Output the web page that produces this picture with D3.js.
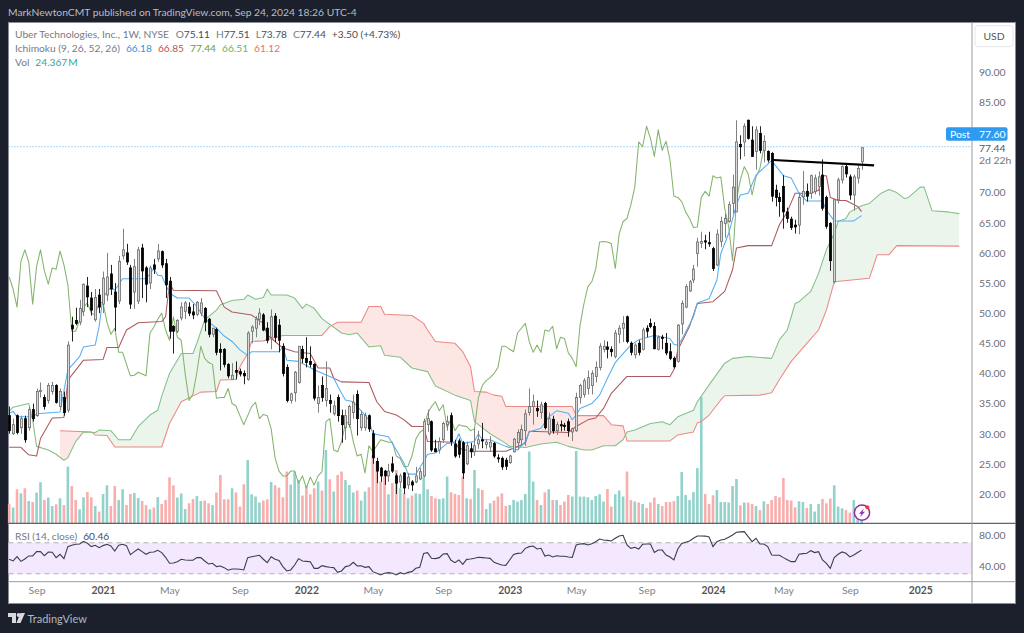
<!DOCTYPE html>
<html lang="en">
<head>
<meta charset="utf-8">
<title>Uber Technologies 1W</title>
<script src="https://d3js.org/d3.v7.min.js"></script>
<style>
  body { margin: 0; background: #1c202c; }
  svg { display: block; }
  text { font-family: Lato, sans-serif; }
  .axis text { font-size: 10.4px; fill: #6a6d78; }
  .axis path, .axis line { display: none; }
</style>
</head>
<body>
<script>
// weekly bars, week 0 = 20 Jul 2020, last = 23 Sep 2024
var opens = [33,30,33,31,32.5,31,34,33,37,36,
  35.5,37,38,34.5,36,33.9,48,48.8,48.5,50.3,
  54.5,52.5,48.9,53,51.5,53,56.5,53.5,52,59.5,
  60,57.5,53.5,52,60.8,57.5,55,58,59,60.2,
  58.2,55.3,47.8,47,49.2,50.3,51,50.2,49.8,50,
  50.8,49,46.5,47.3,44,44,41.5,39,40.5,40.3,
  40,39,47,47.5,49,49.7,47.5,46,49.5,48,
  44.5,41,35.5,36.8,38.5,44,42.5,42,41.5,35,
  38,35.5,35.5,33.3,36,33,31,31.5,33.5,36.5,
  31,31,33,30,25.4,24.3,23.8,23,25,23,
  22,23.5,21.5,22,22,22.5,23,31.5,32,27.5,
  27.3,29,31.5,33,28.3,28.8,28.5,25,27.5,27,
  28.3,29,28.2,27.8,28.4,26,25.9,25.6,25.2,27,
  28.5,29,30.5,33.5,34.5,34.2,33.5,35,30,32.4,
  30.5,31.5,31.4,32,30.3,30.5,36,36.5,37.5,38,
  39.5,41,44,44.4,44,42.8,46.5,47.5,49.4,45,
  43.1,45,44,47.5,48.3,47.8,44,46,45,43.6,
  42.5,42,48.2,51,53.7,55.5,59.9,61.6,62,61.7,
  60.7,58,61.9,64.9,65.2,68.2,66.8,78,78.4,82,
  78.7,76.8,79.8,77,76.8,76.5,70.4,69.2,71,66.8,
  65.6,64.6,64.6,69.3,70.2,69.9,70.2,71,72.9,69.2,
  64.9,55.2,68.8,72.1,74.3,72.6,69.6,72.4,75.11];
var highs = [34.5,32.5,33.2,33,33,34.5,35,37.5,38.5,36.5,
  38.4,38.6,38.2,37.5,37,45.3,49.4,50.9,52.2,54.9,
  56,53.5,54,54,56.9,60,58,55,59.5,64,
  61.5,58,59,61,61.5,57.8,57.9,59,61.5,60.4,
  59,56,48,49,51.8,52,51.8,51.5,52,52.5,
  51,49.2,47.5,47.6,45,44.2,41.7,41.7,42,40.8,
  40.5,47,48,49.5,50.8,50,48.5,50.6,50,49,
  45,41.5,36.8,40.4,44.5,44.6,46,44.5,41.7,38,
  39.5,42,36.5,35.5,36.5,34,34,34.8,36.5,37.2,
  33.8,33.5,33.2,30.6,26,24.5,24,25,26.2,23.4,
  23.4,23.6,23.5,22.3,24.5,24.3,32.5,34,32.2,29,
  29.4,32,33,33.5,29,29.2,28.8,28.7,28.5,31,
  30.5,31.8,29.1,29.6,28.6,26.6,26.2,26,26.5,29.3,
  30.7,31.5,34,37.5,36.5,35.5,35.3,35.3,33.5,33,
  32,32.2,31.8,32.5,31,36.8,38.3,39.2,40.5,40.5,
  42,45,45.5,45.3,44.5,47.2,48,49.5,49.6,45.3,
  45,45.5,47.6,48,49.1,48.5,46.3,46.4,46.7,45,
  42.8,48.2,52.1,54.8,55.5,58,62.5,63.5,63,63.5,
  61,63.9,66,66.5,68.5,73,82,79.5,81.5,82.1,
  81,81,81,79.5,77,76.7,71.3,70,72.9,67.5,
  66,65.5,70,73.6,71.5,73,73,73.5,75.5,69.5,
  65.1,69,72.5,74.5,74.7,73,73,74.6,77.51];
var lows = [30,29.8,29.9,30,28.5,30.5,32,32.8,36,34,
  35,36.5,35,34,33,33.5,45.3,48,48,49.5,
  51,49.6,48.6,50,50,52,53,47,51.5,58.9,
  58,50.7,50.7,51.5,52.5,51.8,54,56.5,58.5,57.5,
  52.5,45.8,43.3,46.7,48.8,49,49.5,49,49.5,49.5,
  47,46,46,43,40.5,41,39.2,38.9,39,39.5,
  38.2,38.8,45,46,48,47,45,44,45.2,43.5,
  39.5,35.2,35,35.3,38.3,41.7,41,41,35.5,33.5,
  35.3,34.5,33.5,33,32,28.5,29,31,32.5,29.7,
  30.5,30.5,30.3,25,21.8,22,21.5,22,23.5,20,
  21,20,20.8,20.5,21.8,22.3,22.8,30.3,27,27,
  26.7,28.5,30.5,28,26,26,22.5,24.8,26,26.3,
  27.5,27.6,27.5,27,26,25.2,24,24,25,26.9,
  27.3,28,28,33,31.5,32.8,32.5,30.7,29.7,30,
  29.8,30.4,30.5,29.5,28.8,30.3,35,36,36.5,36.5,
  38.5,40.5,43.5,42.5,42.8,42.5,45,45.2,45,43,
  42.5,43,43.8,46,47.5,44,43.8,44,43,42.2,
  40.8,41.8,46.5,50.8,53.5,55,57.7,60.8,60.6,61,
  57,57.8,61,62.5,65,66.5,66.8,75.5,76,78.8,
  75.9,73.8,76.5,75,75,68.5,67.7,66,64,65,
  63.8,63.2,63.1,68,68.5,69,69.7,69.5,67,64,
  57,54.9,68.2,71.5,72.5,68.8,67,71.5,73.78];
var closes = [30.5,31.5,30.2,32.5,29,34,32.5,37,37.2,34.5,
  38,38,35.2,37,33.5,44.7,47.4,48.3,50.8,54.8,
  52.7,50.5,52.6,51,55.8,56,54,51,58.6,60.5,
  58.5,51.5,57.7,60.5,57,54.8,57.5,57.3,60.3,58,
  54.7,47,47,48.8,51,51.7,50,49.7,51.8,51.7,
  48.5,46.5,47.5,43.5,43.5,41.5,39.6,39.7,40.2,39.9,
  39.6,46.7,47.7,49,50,47.2,45.5,49.4,46,45.5,
  40,35.5,36.6,40.2,44.5,42.5,41.8,41.5,35.9,36,
  36,37.5,35,34.6,33,31.5,33,34.5,35.2,32.5,
  33.2,33,30.8,26,23.8,23,23,23.8,23.8,21.8,
  23,21,22.8,21.5,23,23.7,32,32.5,27.3,27,
  28.7,31.7,32,28.7,26.3,26.6,23.5,28,27,28,
  29,28.8,28.6,28.6,26.3,25.9,24.5,24.6,26.3,29.1,
  30.2,30.7,33.3,34.5,35.3,33.8,34.8,31,32.5,30.5,
  31.5,31.3,31.2,30.5,30.8,36,38,38.8,39.3,40,
  41,44.5,44.5,44,43.6,46.7,47.5,48.3,45.3,43.5,
  44.7,43.5,47.2,47,47.8,44.1,46,45.8,43.4,42.5,
  41.1,48,51.6,54.4,55.2,57.3,61.8,61.9,61.8,61.5,
  57.4,63.1,65.2,65.7,68,70.9,78.4,77.6,81,79,
  76,80.4,77,78.5,75.4,69.4,69.2,68.5,66.8,65.7,
  64.2,64.3,69.2,70.2,69.4,72.8,72.4,72.6,67.4,64.4,
  58.7,68.8,72.1,74.3,73.1,69.6,72.6,74,77.44];
// volume, millions
var vols = [77,63,136,120,140,89,85,123,164,93,
  103,69,76,100,73,227,149,93,56,104,
  125,104,69,47,117,152,69,149,93,136,
  73,117,121,101,89,73,56,63,105,77,
  93,184,152,103,119,57,80,97,109,89,
  91,80,73,123,193,96,96,140,123,67,
  156,253,116,107,83,91,96,165,152,143,
  104,207,155,207,173,111,148,116,140,167,
  131,293,176,127,193,207,173,153,123,131,
  91,127,144,271,247,167,187,116,160,213,
  140,120,100,111,120,117,187,136,109,100,
  97,100,187,124,117,113,187,100,97,213,
  140,133,57,80,91,107,120,69,73,93,
  87,93,117,287,167,93,73,124,136,93,
  93,73,87,113,107,289,107,107,104,93,
  109,116,87,137,67,116,131,107,207,93,
  87,83,77,61,83,103,77,69,85,85,
  89,109,205,113,93,125,221,505,117,77,
  112,133,85,85,83,149,177,72,83,83,
  77,69,53,88,77,93,109,104,181,93,
  91,64,88,85,61,77,47,77,97,80,
  99,152,67,60,53,43,93,20,24.367];
// rsi per week
var rsi = [48.7,46.5,52,46,49,53,53,58.5,58.5,53.4,
  58.1,57.7,50.8,55.1,49.5,65,66.7,68,68.4,71.9,
  69.3,65,66.7,63.7,66.3,68,65.9,59.4,66.7,68,
  66.3,54.7,58.5,62,58.5,55.1,57.7,58.1,60.3,57.3,
  51.2,43.5,43.9,45.6,48.7,47.8,47.4,47.4,50.8,50.8,
  46.5,42.6,43.5,39.2,40,37.9,34.5,36.2,36.2,35.8,
  34.9,50.8,52,53,53.8,48.7,44.4,52,48.7,47,
  39.2,33.6,34.9,41.3,49.5,46.5,46,45.6,37,37,
  40.5,39.2,38.3,37.9,31.9,33.6,39.2,40.4,44.7,40,
  40.4,38.3,39.2,32.7,30.6,28.4,30.6,31.4,30.6,28.4,
  31.4,29.7,31.8,32.7,37,38.3,56.3,57.2,49.9,49.5,
  50.8,55.5,55.9,47.3,44.3,47.8,42.2,48.6,49,49.9,
  51.2,50.8,50.3,49.9,44.7,43,41.3,40.9,47.8,55,
  56.3,56.8,62.8,65,65.8,61.9,62.8,52.9,54.2,51.6,
  53.3,52.5,52.5,51.6,51.2,67.1,68.4,68.8,67.1,68.8,
  71.4,74.8,73.6,73.1,72.3,75.7,78.7,79.6,67.1,62.8,
  64.1,61.9,68,68.4,68.4,57.6,60.6,60.6,54.2,51.6,
  47.8,61.9,69,70.6,72.3,75.8,78.8,78.8,78.6,77.5,
  65,71.4,73.6,74.4,77,80,83.5,84,84.3,77.9,
  71.4,75.8,68.4,68.4,65,54.2,53.8,53.8,50.8,48.2,
  45.6,45.6,55.1,56,56.4,59.8,57.3,58.5,47.8,43.5,
  37,50.8,55.1,58.1,56.4,51.7,54.2,57.3,60.46];

// ichimoku lines, [week, price] at the visible corners
var tenkan = [[0,33.4],[1,33.7],[2,32.8],[6,32.8],[7,33.3],[13,33.6],[15,40.6],[18,42.8],[19,44.4],[22,44.7],[23,47.8],[24,52.7],[26,54.3],[27,53.8],[29,55.7],[35,55.7],[37,57.4],[38,56.3],[39,56.2],[41,53.3],[43,52.5],[46,52.5],[48,51.1],[50,49.1],[53,47.5],[55,46.2],[57,45.3],[59,43.9],[61,43],[62,43.6],[69,43.6],[70,44.4],[71,42.2],[74,42],[78,40.6],[83,39.2],[85,36.7],[86,35.6],[88,35.3],[92,32.3],[93,30],[97,29.5],[99,27.3],[101,25.1],[102,23.3],[104,23.3],[106,25.4],[107,26.6],[109,26.8],[112,28.4],[114,28.5],[115,30],[116,28.4],[119,28.7],[120,30],[121,29],[123,29],[127,27.9],[130,27.3],[132,28.7],[133,30.3],[136,30.9],[138,32.8],[140,33.8],[143,33.4],[144,32.3],[145,33.1],[146,34.2],[149,35],[151,36.4],[153,39.2],[155,41.8],[157,43.3],[159,44.7],[161,45.6],[165,46.3],[169,45.8],[170,44.8],[171,44.7],[172,45.6],[175,49.4],[176,51.7],[179,52.4],[181,55.5],[182,59.9],[184,63.2],[186,68],[187,69.6],[189,69.9],[191,72.9],[195,75.3],[198,72.8],[200,72.4],[202,69.9],[204,68.6],[208,68.6],[209,67.1],[211,65.3],[216,65.3],[218,66.18]];
var kijun = [[0,27.75],[3,27.75],[5,26.5],[7,26.3],[8,29.2],[11,32.6],[14,32.7],[15,38.9],[19,42.2],[24,42.3],[25,44.3],[28,44.3],[30,47.2],[33,48.4],[39,48.6],[40,49.4],[41,55],[42,53.8],[53,53.7],[55,51],[57,50.2],[62,49.7],[65,48.3],[66,46.4],[68,45.3],[70,44.2],[73,43.6],[77,43.3],[79,40.9],[82,40.9],[83,39.2],[85,38.6],[92,38.5],[94,35.3],[96,33.7],[99,33.1],[101,32.3],[103,31.2],[106,31.2],[107,28.7],[114,28.6],[115,27.6],[118,27.1],[127,27.1],[129,27.6],[132,28.4],[133,30.4],[143,30.2],[145,31.2],[148,32.3],[150,32.6],[152,34.2],[154,36.7],[158,39.5],[169,39.5],[170,40.6],[171,43.9],[174,47.8],[176,51.6],[180,51.9],[183,53.6],[185,57.2],[186,60.8],[189,61.2],[195,61.2],[197,64.7],[199,66.8],[201,69.9],[205,69.9],[207,70.4],[208,72.8],[209,72.8],[210,69.2],[212,68.7],[214,68.7],[217,67.7],[218,66.85]];
var senkouA = [[0,33.7],[1,34.4],[5,35],[6,32.3],[7,27.9],[10,27.3],[12,26.6],[14,25.6],[15,26],[17,28.7],[19,30.3],[22,30.2],[23,30.6],[26,30.5],[28,29],[31,29],[33,31.2],[36,33.1],[38,33.9],[39,36.2],[41,40],[44,43.3],[47,43.3],[48,45],[50,48.9],[53,50.5],[54,51.4],[57,52.1],[60,52.3],[61,53],[63,52.3],[65,52.6],[66,54],[67,53],[71,53],[73,52.5],[75,50.8],[76,51.5],[78,50.8],[80,49.1],[85,46.7],[87,46.4],[89,46.7],[92,44.4],[95,44.6],[96,43],[100,42.7],[103,40.9],[107,40.3],[109,37.9],[114,36.4],[118,35.5],[119,32],[120,31.5],[123,30],[127,28.4],[128,27.9],[132,27.7],[136,28.3],[140,28.6],[143,27.9],[147,27.3],[149,27.3],[152,28],[155,28],[157,29],[158,30.3],[160,30.6],[164,31.7],[167,32],[169,31.5],[171,32.8],[175,33.9],[176,35.3],[179,38.1],[183,41.7],[185,42.5],[189,42.8],[195,42.5],[197,45.6],[199,47.2],[201,51.6],[202,51.9],[205,53.6],[207,56.6],[209,60.5],[211,63.2],[212,65.2],[214,65.7],[215,66.8],[218,67.8],[220,68.2],[223,69.9],[225,70.5],[227,70],[229,69],[230,69.2],[233,70.9],[234,70.9],[236,67],[240,66.8],[241,66.7],[243,66.51]];
var senkouB = [[13,30.5],[21,30.3],[22,29.8],[25,29.7],[27,27.8],[39,27.8],[41,31.7],[44,35.3],[49,36.9],[53,37],[54,38.9],[58,39],[59,41.1],[61,43.3],[62,45.3],[65,45.4],[70,46.3],[80,46.3],[82,47.8],[84,48.5],[90,48.5],[92,51.1],[95,51.1],[96,49.8],[103,49.6],[106,48.3],[107,47.2],[109,45.3],[114,45],[116,43.6],[118,41.1],[119,37],[122,36.9],[124,36.4],[126,36.2],[127,34.5],[144,34.5],[145,33],[152,33],[154,31.5],[157,31.3],[158,28.8],[169,28.8],[171,29.8],[175,30.3],[176,31.8],[177,32],[179,33.1],[182,35.6],[183,36.3],[192,36.4],[195,36.8],[197,39],[200,42],[204,45],[207,47.2],[209,50.5],[211,55.2],[220,55.8],[222,59.7],[225,59.7],[227,61.2],[243,61.12]];
var trendWeeks = [195.4, 221.2];
var trendPrices = [75.4, 74.5];

var shownTicks = [90,85,70,65,60,55,50,45,40,35,30,25,20];
var rsiTicks = [80,40];
var xTickWeeks = [7,24,41,59,76,93,111,128,145,163,180,198,215,233];
var xTickLabels = ['Sep','2021','May','Sep','2022','May','Sep','2023','May','Sep','2024','May','Sep','2025'];

var W = 1024, H = 633;
var left = 8.5, right = 1015.5, axisX = 972, top_ = 22.5, volBase = 523.3, rsiBase = 581.7, bottom = 603.5;

var x = d3.scaleLinear().domain([0, 218]).range([9.2, 9.2 + 3.91 * 218]);
var y = d3.scaleLinear().domain([90, 20]).range([72, 494]);
var yVol = d3.scaleLinear().domain([0, 505]).range([volBase, 397]);
var yRsi = d3.scaleLinear().domain([80, 40]).range([535, 566]);

var svg = d3.select('body').append('svg').attr('width', W).attr('height', H);

svg.append('rect').attr('x', left).attr('y', top_).attr('width', right - left).attr('height', bottom - top_)
  .attr('fill', '#fff').attr('stroke', '#8a8d95').attr('stroke-width', 1);

// last price dotted line
svg.append('line').attr('x1', left).attr('x2', axisX).attr('y1', y(77.6)).attr('y2', y(77.6))
  .attr('stroke', '#2196f3').attr('stroke-width', 1).attr('stroke-dasharray', '1 2').attr('opacity', .75);

// cloud, two clipped areas so that the colour flips where the spans cross
var defs = svg.append('defs');
var below = function(d){ return y(d[1]); };
var areaToBottom = d3.area().x(function(d){return x(d[0]);}).y0(volBase).y1(below);
var areaToTop = d3.area().x(function(d){return x(d[0]);}).y0(top_).y1(below);

defs.append('clipPath').attr('id', 'underA').append('path').attr('d', areaToBottom(senkouA));
defs.append('clipPath').attr('id', 'overA').append('path').attr('d', areaToTop(senkouA));

svg.append('path').attr('d', areaToTop(senkouB)).attr('clip-path', 'url(#underA)').attr('fill', '#ebf5eb');
svg.append('path').attr('d', areaToBottom(senkouB)).attr('clip-path', 'url(#overA)').attr('fill', '#fde7e5');

// volume
svg.append('g').selectAll('rect')
    .data(vols)
  .enter().append('rect')
    .attr('x', function(d, i){ return x(i) - 1.3; })
    .attr('y', function(d){ return yVol(d); })
    .attr('width', 2.6)
    .attr('height', function(d){ return volBase - yVol(d); })
    .attr('fill', function(d, i){ return closes[i] >= opens[i] ? '#92d2ca' : '#f8aeac'; });

// ichimoku
var line = d3.line().x(function(d){return x(d[0]);}).y(function(d){return y(d[1]);});
function drawLine(data, color) {
  svg.append('path').attr('d', line(data)).attr('fill', 'none')
    .attr('stroke', color).attr('stroke-width', 1.05).attr('stroke-linejoin', 'round');
}
// lagging span is the close plotted 25 bars back
var chikou = closes.slice(25).map(function(c, i){ return [i, c]; });
drawLine(senkouB, '#ec8886');
drawLine(senkouA, '#86bf88');
drawLine(chikou, '#84b46c');
drawLine(kijun, '#ad5a5d');
drawLine(tenkan, '#56aef0');

// candles
var bars = svg.append('g').selectAll('g')
    .data(closes)
  .enter().append('g');
bars.append('line')
    .attr('x1', function(d, i){ return Math.round(x(i)) + .5; })
    .attr('x2', function(d, i){ return Math.round(x(i)) + .5; })
    .attr('y1', function(d, i){ return y(highs[i]); })
    .attr('y2', function(d, i){ return y(lows[i]); })
    .attr('stroke', function(d, i){ return d >= opens[i] ? '#808080' : '#222'; })
    .attr('stroke-width', 1);
bars.append('rect')
    .attr('x', function(d, i){ return Math.round(x(i)) - .5; })
    .attr('y', function(d, i){ return y(Math.max(d, opens[i])); })
    .attr('width', 2)
    .attr('height', function(d, i){ return Math.max(1, Math.abs(y(d) - y(opens[i]))); })
    .attr('fill', function(d, i){ return d >= opens[i] ? '#d9d9d9' : '#000'; })
    .attr('stroke', function(d, i){ return d >= opens[i] ? '#6a6a6a' : '#000'; })
    .attr('stroke-width', .8);

// drawn trend line
svg.append('line')
  .attr('x1', x(trendWeeks[0])).attr('y1', y(trendPrices[0]))
  .attr('x2', x(trendWeeks[1])).attr('y2', y(trendPrices[1]))
  .attr('stroke', '#000').attr('stroke-width', 2.2);

// rsi pane
svg.append('rect').attr('x', left).attr('width', axisX - left)
  .attr('y', yRsi(70)).attr('height', yRsi(30) - yRsi(70)).attr('fill', '#f3e8fd');
[70, 30].forEach(function(v) {
  svg.append('line').attr('x1', left).attr('x2', axisX).attr('y1', yRsi(v)).attr('y2', yRsi(v))
    .attr('stroke', '#b3aeb5').attr('stroke-dasharray', '5 4');
});
svg.append('path')
  .attr('d', d3.line().x(function(d, i){return x(i);}).y(function(d){return yRsi(d);})(rsi))
  .attr('fill', 'none').attr('stroke', '#3a3f4c').attr('stroke-width', 1.1);

// pane separators
svg.append('line').attr('x1', left).attr('x2', right).attr('y1', volBase).attr('y2', volBase).attr('stroke', '#3b3e46');
svg.append('line').attr('x1', left).attr('x2', right).attr('y1', rsiBase).attr('y2', rsiBase).attr('stroke', '#9a9ca2');
svg.append('line').attr('x1', axisX).attr('x2', axisX).attr('y1', top_).attr('y2', bottom).attr('stroke', '#9a9ca2');

// axes
var yAxis = d3.axisRight(y).tickValues(shownTicks).tickSize(0).tickPadding(0)
  .tickFormat(function(d){ return d.toFixed(2); });
svg.append('g').attr('class', 'axis').attr('transform', 'translate(979,0)').call(yAxis);

var rsiAxis = d3.axisRight(yRsi).tickValues(rsiTicks).tickSize(0).tickPadding(0)
  .tickFormat(function(d){ return d.toFixed(2); });
svg.append('g').attr('class', 'axis').attr('transform', 'translate(979,0)').call(rsiAxis);

var xAxis = d3.axisBottom(x).tickValues(xTickWeeks).tickSize(0).tickPadding(0)
  .tickFormat(function(d, i){ return xTickLabels[i]; });
var xg = svg.append('g').attr('class', 'axis').attr('transform', 'translate(0,' + (rsiBase + 5) + ')').call(xAxis);
xg.selectAll('text')
  .style('fill', function(d, i){ return /^20/.test(xTickLabels[i]) ? '#555' : '#80838c'; })
  .style('font-weight', function(d, i){ return /^20/.test(xTickLabels[i]) ? 700 : 400; });

// post label and last values
svg.append('rect').attr('x', 946).attr('y', 127.3).attr('width', 61.5).attr('height', 13.5).attr('rx', 2).attr('fill', '#2f9bf0');
svg.append('text').attr('x', 950).attr('y', 138).attr('font-size', 10.4).attr('fill', '#fff').text('Post');
svg.append('text').attr('x', 979).attr('y', 138).attr('font-size', 10.4).attr('fill', '#fff').text('77.60');
svg.append('text').attr('x', 979).attr('y', 151.7).attr('font-size', 10.4).attr('fill', '#555').text('77.44');
svg.append('text').attr('x', 979).attr('y', 163.5).attr('font-size', 10.4).attr('fill', '#777').text('2d 22h');

// usd button
svg.append('rect').attr('x', 975).attr('y', 25.7).attr('width', 38).attr('height', 21).attr('rx', 3)
  .attr('fill', '#fff').attr('stroke', '#e6e6ea');
svg.append('text').attr('x', 994).attr('y', 40).attr('text-anchor', 'middle').attr('font-size', 10.4).attr('fill', '#555').text('USD');

// header and legend
svg.append('text').attr('x', 8).attr('y', 16).attr('font-size', 10.3).attr('fill', '#b9bcc4')
  .text('MarkNewtonCMT published on TradingView.com, Sep 24, 2024 18:26 UTC-4');

function legend(yPos, parts) {
  var t = svg.append('text').attr('x', 15).attr('y', yPos).attr('font-size', 10.2);
  parts.forEach(function(p) {
    t.append('tspan').attr('fill', p[1]).attr('dx', p[2] || 0).text(p[0]);
  });
}
var legendGrey = '#777a83', legendDark = '#4a4d55';
legend(38, [['Uber Technologies, Inc., 1W, NYSE', legendGrey], ['O', legendGrey, 7], ['75.11', legendDark], ['H', legendGrey, 6], ['77.51', legendDark],
  ['L', legendGrey, 6], ['73.78', legendDark], ['C', legendGrey, 6], ['77.44', legendDark], ['+3.50 (+4.73%)', legendDark, 6]]);
legend(52, [['Ichimoku (9, 26, 52, 26)', legendGrey], ['66.18', '#2f96e8', 6], ['66.85', '#b8575a', 6], ['77.44', '#5fa043', 6], ['66.51', '#66b56b', 6], ['61.12', '#ee6f6d', 6]]);
legend(66, [['Vol', legendGrey], ['24.367', '#35a798', 6], ['M', '#35a798', 1]]);
svg.append('text').attr('x', 15).attr('y', 540).attr('font-size', 10.2).attr('fill', legendGrey).text('RSI (14, close)')
  .append('tspan').attr('dx', 6).attr('fill', legendDark).text('60.46');

// flash icon on the last bar
var icon = svg.append('g').attr('transform', 'translate(862,512.7)');
icon.append('circle').attr('r', 7.6).attr('fill', '#fff').attr('stroke', '#9c27b0').attr('stroke-width', 1.5);
icon.append('path').attr('d', 'M2,-4.5 L-3,1 L-0.5,1 L-2,4.5 L3,-1 L0.5,-1 Z').attr('fill', '#8e35c0');
icon.append('circle').attr('cx', 5.3).attr('cy', -5.4).attr('r', 2).attr('fill', '#ee3b3b');

// tradingview mark
var logo = svg.append('g').attr('fill', '#d7d9de');
logo.append('path').attr('d', 'M8,613 H16 V623 H12 V617 H8 Z');
logo.append('circle').attr('cx', 18.6).attr('cy', 615).attr('r', 1.9);
logo.append('path').attr('d', 'M20.5,613 H25 L20.5,623 H16.4 Z');
svg.append('text').attr('x', 27.5).attr('y', 622.5).attr('font-size', 11).attr('fill', '#b4b7bf').text('TradingView');
</script>
</body>
</html>
